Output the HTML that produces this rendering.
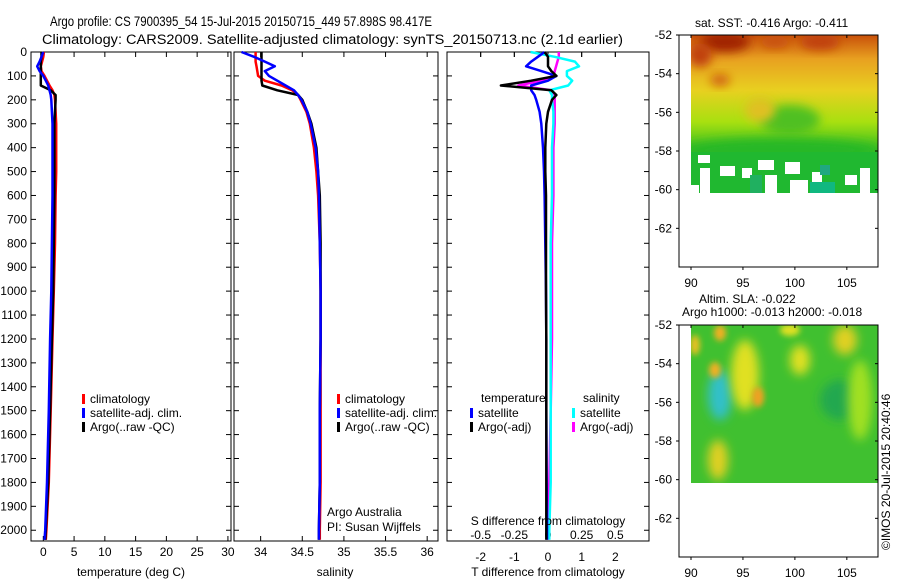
<!DOCTYPE html>
<html><head><meta charset="utf-8"><style>
html,body{margin:0;padding:0;background:#fff;}
svg text{font-family:"Liberation Sans",sans-serif;font-size:12px;fill:#000;}
</style></head><body>
<svg id="fig" width="900" height="580" viewBox="0 0 900 580" xmlns="http://www.w3.org/2000/svg">
<defs>
<filter id="bl" x="-50%" y="-50%" width="200%" height="200%"><feGaussianBlur stdDeviation="5"/></filter>
<filter id="bl2" x="-50%" y="-50%" width="200%" height="200%"><feGaussianBlur stdDeviation="3"/></filter>
<clipPath id="c1"><rect x="691" y="35" width="187" height="158"/></clipPath>
<clipPath id="c2"><rect x="691" y="325" width="187" height="158"/></clipPath>
<linearGradient id="sstg" x1="0" y1="0" x2="0" y2="1">
<stop offset="0" stop-color="#c8500a"/><stop offset="0.15" stop-color="#e8a020"/><stop offset="0.35" stop-color="#e8d020"/><stop offset="0.55" stop-color="#a8e010"/><stop offset="0.72" stop-color="#40c020"/><stop offset="1" stop-color="#10b030"/></linearGradient>
</defs>
<text x="50" y="26" textLength="382" lengthAdjust="spacingAndGlyphs" style="font-size:14px">Argo profile: CS 7900395_54 15-Jul-2015 20150715_449 57.898S 98.417E</text>
<text x="42" y="44" textLength="581" lengthAdjust="spacingAndGlyphs" style="font-size:13.5px">Climatology: CARS2009. Satellite-adjusted climatology: synTS_20150713.nc (2.1d earlier)</text>
<g id="panels"></g>
<g id="maps">
<text x="695" y="27" style="font-size:12px">sat. SST: -0.416 Argo: -0.411</text>
<g clip-path="url(#c1)">
<rect x="691" y="35" width="187" height="158" fill="url(#sstg)"/>
<ellipse cx="725" cy="42" rx="25" ry="10" fill="#a02000" filter="url(#bl)"/>
<ellipse cx="700" cy="55" rx="12" ry="12" fill="#c04008" filter="url(#bl)"/>
<ellipse cx="720" cy="80" rx="10" ry="6" fill="#d06010" filter="url(#bl)"/>
<ellipse cx="820" cy="42" rx="20" ry="8" fill="#c04010" filter="url(#bl)"/>
<ellipse cx="775" cy="42" rx="15" ry="6" fill="#c85010" filter="url(#bl)"/>
<ellipse cx="790" cy="120" rx="30" ry="15" fill="#50c020" filter="url(#bl)"/>
<ellipse cx="760" cy="110" rx="15" ry="12" fill="#e0c020" filter="url(#bl)"/>
<ellipse cx="780" cy="150" rx="100" ry="12" fill="#28b828" filter="url(#bl)"/>
<rect x="691" y="152" width="187" height="41" fill="#20b830"/>
<rect x="700" y="168" width="10" height="25" fill="#fff"/>
<rect x="698" y="155" width="12" height="8" fill="#fff"/>
<rect x="720" y="166" width="15" height="10" fill="#fff"/>
<rect x="742" y="168" width="10" height="10" fill="#fff"/>
<rect x="758" y="160" width="16" height="10" fill="#fff"/>
<rect x="765" y="175" width="12" height="18" fill="#fff"/>
<rect x="785" y="162" width="15" height="12" fill="#fff"/>
<rect x="790" y="180" width="18" height="13" fill="#fff"/>
<rect x="812" y="172" width="10" height="10" fill="#fff"/>
<rect x="845" y="175" width="12" height="10" fill="#fff"/>
<rect x="860" y="168" width="10" height="25" fill="#fff"/>
<rect x="691" y="185" width="8" height="8" fill="#fff"/>
<rect x="750" y="175" width="12" height="18" fill="#20b060"/>
<rect x="810" y="182" width="25" height="11" fill="#10b880"/>
<rect x="820" y="165" width="10" height="10" fill="#20a880"/>
</g>
<rect x="679" y="35" width="199" height="232" fill="none" stroke="#000" stroke-width="1"/>
<text x="699" y="303">Altim. SLA: -0.022</text>
<text x="682" y="316">Argo h1000: -0.013 h2000: -0.018</text>
<g clip-path="url(#c2)">
<rect x="691" y="325" width="187" height="158" fill="#40c030"/>
<ellipse cx="720" cy="395" rx="12" ry="25" fill="#30c0c8" filter="url(#bl)"/>
<ellipse cx="745" cy="375" rx="14" ry="35" fill="#e0e020" filter="url(#bl)"/>
<ellipse cx="758" cy="397" rx="6" ry="10" fill="#f0a020" filter="url(#bl2)"/>
<ellipse cx="715" cy="370" rx="6" ry="8" fill="#f0b020" filter="url(#bl2)"/>
<ellipse cx="720" cy="333" rx="6" ry="8" fill="#f0b020" filter="url(#bl2)"/>
<ellipse cx="695" cy="345" rx="5" ry="10" fill="#e8c020" filter="url(#bl2)"/>
<ellipse cx="800" cy="360" rx="10" ry="15" fill="#e0e020" filter="url(#bl)"/>
<ellipse cx="845" cy="340" rx="12" ry="15" fill="#e0d020" filter="url(#bl)"/>
<ellipse cx="840" cy="400" rx="20" ry="20" fill="#20a850" filter="url(#bl)"/>
<ellipse cx="718" cy="460" rx="10" ry="20" fill="#e0d020" filter="url(#bl)"/>
<ellipse cx="860" cy="400" rx="12" ry="40" fill="#a0e020" filter="url(#bl)"/>
<ellipse cx="790" cy="330" rx="10" ry="6" fill="#e0e020" filter="url(#bl2)"/>
</g>
<rect x="679" y="325" width="199" height="232" fill="none" stroke="#000" stroke-width="1"/>
<text transform="translate(890,550) rotate(-90)" style="font-size:12px">©IMOS 20-Jul-2015 20:40:46</text>
</g>
</svg>
<script>
// ---- data ----
const depths = [0,20,40,60,80,100,120,140,160,180,200,250,300,400,500,600,800,1000,1200,1500,1800,2000,2040];
const tempClim = [0.1,0.0,-0.2,-0.4,-0.3,0.2,0.6,1.0,1.5,1.8,1.9,2.0,2.1,2.1,2.1,2.0,1.9,1.7,1.5,1.2,0.9,0.5,0.4];
const tempSat = [0.0,-0.3,-0.6,-1.0,-0.6,0.0,0.4,0.8,1.0,1.2,1.3,1.4,1.5,1.5,1.5,1.5,1.4,1.3,1.1,0.9,0.6,0.3,0.2];
const tempArgo = [-0.3,-0.3,-0.4,-0.4,-0.4,-0.4,-0.4,-0.4,1.2,2.0,2.0,1.9,1.8,1.8,1.8,1.8,1.7,1.6,1.4,1.1,0.8,0.4,0.3];
const salClim = [33.94,33.94,33.94,33.95,33.96,33.97,34.05,34.25,34.38,34.45,34.48,34.55,34.59,34.64,34.67,34.69,34.71,34.72,34.72,34.72,34.72,34.71,34.71];
const salSat = [33.77,33.92,34.05,34.17,34.05,34.1,34.2,34.3,34.4,34.45,34.49,34.56,34.6,34.66,34.69,34.7,34.71,34.72,34.72,34.71,34.71,34.70,34.70];
const salArgo = [34.01,34.01,34.01,34.01,34.01,34.01,34.01,34.02,34.2,34.45,34.5,34.56,34.61,34.67,34.69,34.71,34.72,34.72,34.72,34.71,34.71,34.70,34.70];
const dTSat = [-0.1,-0.3,-0.5,-0.65,-0.2,0.25,0.0,-0.5,-0.5,-0.4,-0.35,-0.25,-0.2,-0.15,-0.12,-0.1,-0.08,-0.06,-0.05,-0.05,-0.04,-0.03,-0.03];
const dTArgo = [-0.1,0.0,0.0,0.0,0.1,0.25,-0.5,-1.4,0.1,0.25,0.12,0.0,-0.05,-0.08,-0.08,-0.06,-0.06,-0.06,-0.05,-0.05,-0.05,-0.05,-0.05];
const dSSat = [-0.13,0.05,0.2,0.23,0.14,0.14,0.18,0.15,0.01,0.03,0.03,0.04,0.04,0.03,0.03,0.03,0.02,0.02,0.02,0.02,0.02,0.01,0.01];
const dSArgo = [0.08,0.08,0.07,0.06,0.05,0.04,-0.05,-0.22,0.03,0.05,0.05,0.05,0.05,0.04,0.04,0.04,0.03,0.03,0.03,0.02,0.01,0.0,0.0];
const depthTicks = [0,100,200,300,400,500,600,700,800,900,1000,1100,1200,1300,1400,1500,1600,1700,1800,1900,2000];
const tempTicks = [0,5,10,15,20,25,30];
const salTicks = [34,34.5,35,35.5,36];
const salTickLabels = ['34','34.5','35','35.5','36'];
const dTTicks = [-2,-1,0,1,2];
const dSTicks = [-0.5,-0.25,0,0.25,0.5];
const dSTickLabels = ['-0.5','-0.25','0','0.25','0.5'];
// ---- axes ----
const Y0=52, Y1=541, DMAX=2045;
const yScale = d => Y0 + d/DMAX*(Y1-Y0);
const lin = (a,b,x0,x1) => v => x0 + (v-a)/(b-a)*(x1-x0);
const xTemp = lin(-2,30.5,31,231);
const xSal = lin(33.68,36.13,234,438);
const xDT = lin(-3,3,447,649);
const xDS = lin(-0.75,0.75,447,649);
const NS='http://www.w3.org/2000/svg';
const root=document.getElementById('panels');
function mk(tag,attrs,parent){const e=document.createElementNS(NS,tag);for(const k in attrs)e.setAttribute(k,attrs[k]);(parent||root).appendChild(e);return e;}
function txt(x,y,s,anchor,parent){const t=mk('text',{x:x,y:y,'text-anchor':anchor||'start'},parent);t.textContent=s;return t;}
function panel(name,x0,x1){
  const g=mk('g',{});
  
  
  const r=mk('rect',{x:x0,y:Y0,width:x1-x0,height:Y1-Y0,fill:'none',stroke:'#000','stroke-width':1},g);
  
  
  depthTicks.forEach(d=>{const y=yScale(d);mk('line',{x1:x0,x2:x0+5,y1:y,y2:y,stroke:'#000'},g);mk('line',{x1:x1-5,x2:x1,y1:y,y2:y,stroke:'#000'},g);});
  return g;
}
function xticks(g,vals,labs,sc,ybase,tickBottom){
  vals.forEach((v,i)=>{const x=sc(v);
    mk('line',{x1:x,x2:x,y1:Y0,y2:Y0+5,stroke:'#000'},g);
    if(tickBottom)mk('line',{x1:x,x2:x,y1:Y1-5,y2:Y1,stroke:'#000'},g);
    const t=txt(x,ybase,labs[i],'middle',g);
    
    });
}
function line(g,xs,sc,color,name,w){
  const pts=depths.map((d,i)=>sc(xs[i]).toFixed(1)+','+yScale(d).toFixed(1)).join(' ');
  const p=mk('polyline',{points:pts,fill:'none',stroke:color,'stroke-width':w||2.5,'stroke-linejoin':'round'},g);
  
  
}
function legend(g,x,y,color,label){
  mk('rect',{x:x,y:y-9,width:3,height:10,fill:color},g);
  const t=txt(x+8,y,label,'start',g);
  
  
}
// panel 1
const p1=panel('temperature-panel',31,231);
depthTicks.forEach(d=>{const t=txt(27,yScale(d)+4,String(d),'end',p1);
  
  });
xticks(p1,tempTicks,tempTicks.map(String),xTemp,556,true);
line(p1,tempClim,xTemp,'#f00','temp-climatology-line');
line(p1,tempArgo,xTemp,'#000','temp-argo-line');
line(p1,tempSat,xTemp,'#00f','temp-satellite-line');
legend(p1,82,403,'#f00','climatology');
legend(p1,82,417,'#00f','satellite-adj. clim.');
legend(p1,82,431,'#000','Argo(..raw -QC)');
const t1=txt(131,576,'temperature (deg C)','middle',p1);


// panel 2
const p2=panel('salinity-panel',234,438);
xticks(p2,salTicks,salTickLabels,xSal,556,true);
line(p2,salClim,xSal,'#f00','sal-climatology-line');
line(p2,salArgo,xSal,'#000','sal-argo-line');
line(p2,salSat,xSal,'#00f','sal-satellite-line');
legend(p2,337,403,'#f00','climatology');
legend(p2,337,417,'#00f','satellite-adj. clim.');
legend(p2,337,431,'#000','Argo(..raw -QC)');
const a1=txt(327,516,'Argo Australia','start',p2);


const a2=txt(327,531,'PI: Susan Wijffels','start',p2);


const t2=txt(335,576,'salinity','middle',p2);


// panel 3
const p3=panel('difference-panel',447,649);
xticks(p3,dTTicks,dTTicks.map(String),xDT,561,false);
xticks(p3,dSTicks,dSTickLabels,xDS,539,false);
line(p3,dSArgo,xDS,'#f0f','sal-diff-argo-line');
line(p3,dSSat,xDS,'#0ff','sal-diff-satellite-line');
line(p3,dTSat,xDT,'#00f','temp-diff-satellite-line');
line(p3,dTArgo,xDT,'#000','temp-diff-argo-line');
const lt=txt(481,402,'temperature','start',p3);


const ls=txt(583,402,'salinity','start',p3);


legend(p3,470,417,'#00f','satellite');
legend(p3,470,431,'#000','Argo(-adj)');
legend(p3,572,417,'#0ff','satellite');
legend(p3,572,431,'#f0f','Argo(-adj)');
const ts=txt(548,525,'S difference from climatology','middle',p3);


const tt=txt(548,576,'T difference from climatology','middle',p3);


// map axes
const mapLat=[-52,-54,-56,-58,-60,-62];
const mapLon=[90,95,100,105];
const lonX=lin(90,108,691,878);
const maps=document.getElementById('maps');
[35,325].forEach((top,mi)=>{
  const ly=lin(-52,-64,top,top+232);
  mapLat.forEach(v=>{const y=ly(v);mk('line',{x1:676,x2:679,y1:y,y2:y,stroke:'#000'},maps);mk('line',{x1:875,x2:878,y1:y,y2:y,stroke:'#000'},maps);
    const t=txt(672,y+4,String(v),'end',maps);
    
    });
  mapLon.forEach(v=>{const x=lonX(v);mk('line',{x1:x,x2:x,y1:top,y2:top+3,stroke:'#000'},maps);mk('line',{x1:x,x2:x,y1:top+232,y2:top+235,stroke:'#000'},maps);
    const t=txt(x,top+252,String(v),'middle',maps);
    
    });
});
</script>
</body></html>
